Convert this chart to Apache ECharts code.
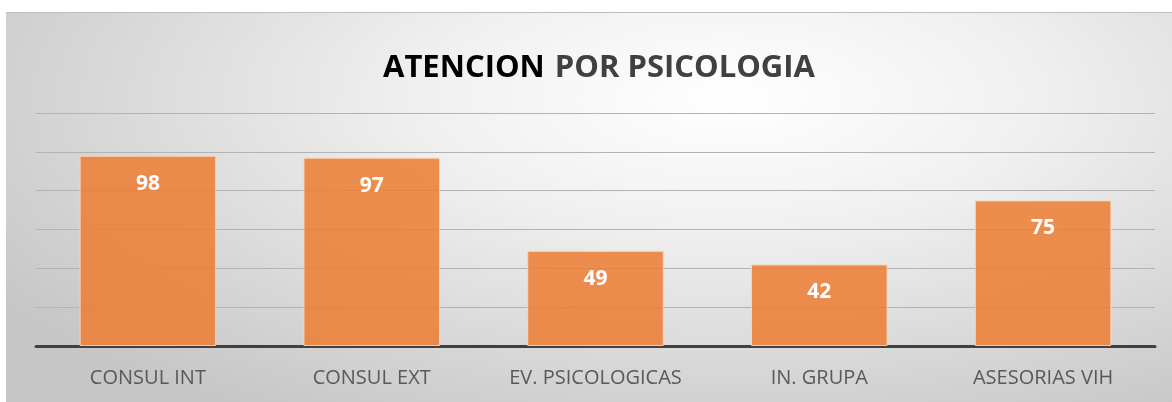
<!DOCTYPE html>
<html>
<head>
<meta charset="utf-8">
<script src="https://cdn.jsdelivr.net/npm/echarts@6/dist/echarts.min.js"></script>
<style>
  html, body { margin: 0; padding: 0; background: #ffffff; }
  #chart {
    position: absolute; left: 6px; top: 12px; width: 1166px; height: 390px;
    border-top: 1px solid #bdbdbd;
    background: radial-gradient(ellipse 75% 95% at 62% 22%, #ffffff 0%, #f0f0f0 35%, #d9d9d9 70%, #c6c6c6 100%);
  }
</style>
</head>
<body>
<div id="chart"></div>
<script>
  // datos del grafico
  var categorias = ['CONSUL INT', 'CONSUL EXT', 'EV. PSICOLOGICAS', 'IN. GRUPA', 'ASESORIAS VIH'];
  var valores = [98, 97, 49, 42, 75];
  var tituloA = 'ATENCION';
  var tituloB = 'POR PSICOLOGIA';

  var myChart = echarts.init(document.getElementById('chart'));
  myChart.setOption({
    animation: false,
    backgroundColor: 'transparent',
    title: {
      text: '{a|' + tituloA + '}{s| }{b|' + tituloB + '}',
      left: 372,
      top: 35,
      textStyle: {
        rich: {
          a: { fontFamily: 'Open Sans', fontWeight: 'bold', fontSize: 31, color: '#000000' },
          s: { fontFamily: 'Open Sans', fontSize: 31, width: 10 },
          b: { fontFamily: 'Open Sans', fontWeight: 'bold', fontSize: 31, color: '#404040' }
        }
      }
    },
    grid: {
      left: 30,
      right: 17,
      top: 100,
      bottom: 57
    },
    xAxis: {
      type: 'category',
      data: categorias,
      axisLine: { lineStyle: { color: '#404040', width: 3 } },
      axisTick: { show: false },
      axisLabel: {
        interval: 0,
        hideOverlap: false,
        fontFamily: 'Open Sans',
        fontSize: 20,
        color: '#595959',
        margin: 22,
        lineHeight: 20
      }
    },
    yAxis: {
      type: 'value',
      min: 0,
      max: 120,
      interval: 20,
      axisLabel: { show: false },
      axisLine: { show: false },
      axisTick: { show: false },
      splitLine: { lineStyle: { color: '#b3b3b3', width: 1 } }
    },
    series: [
      {
        type: 'bar',
        data: valores,
        barWidth: '61%',
        itemStyle: {
          color: 'rgba(237,125,49,0.85)',
          borderColor: 'rgba(250,215,190,0.9)',
          borderWidth: 1
        },
        label: {
          show: true,
          position: 'insideTop',
          distance: 17,
          color: '#ffffff',
          fontFamily: 'Open Sans',
          fontWeight: 'bold',
          fontSize: 21,
          lineHeight: 22
        }
      }
    ]
  });
</script>
</body>
</html>
